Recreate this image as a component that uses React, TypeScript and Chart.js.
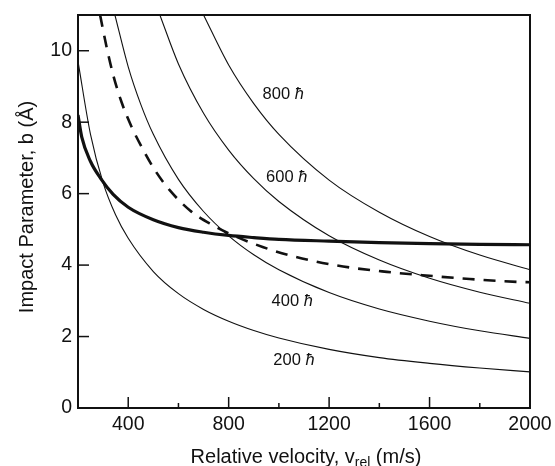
import React, { useEffect, useRef } from "react";
import { Chart, registerables } from "chart.js";

Chart.register(...registerables);

// ---- data (velocity in m/s, impact parameter in Å) ----
const curve200V = [200, 250, 300, 350, 400, 500, 600, 700, 800, 900, 1000, 1200, 1400, 1600, 1800, 2000];
const curve200B = [9.7, 7.65, 6.3, 5.4, 4.75, 3.82, 3.2, 2.76, 2.43, 2.17, 1.96, 1.64, 1.41, 1.25, 1.12, 1.01];

const curve400V = [347, 400, 450, 500, 600, 700, 800, 900, 1000, 1200, 1400, 1600, 1800, 2000];
const curve400B = [11.0, 9.55, 8.5, 7.66, 6.4, 5.5, 4.82, 4.29, 3.87, 3.23, 2.77, 2.43, 2.16, 1.95];

const curve600V = [526, 600, 700, 800, 900, 1000, 1200, 1400, 1600, 1800, 2000];
const curve600B = [11.0, 9.63, 8.25, 7.22, 6.42, 5.78, 4.82, 4.14, 3.63, 3.24, 2.93];

const curve800V = [700, 800, 900, 1000, 1200, 1400, 1600, 1800, 2000];
const curve800B = [11.0, 9.6, 8.52, 7.66, 6.38, 5.48, 4.8, 4.28, 3.87];

const thickV = [200, 215, 250, 290, 340, 400, 500, 600, 700, 800, 900, 1000, 1200, 1400, 1600, 1800, 2000];
const thickB = [8.2, 7.58, 6.9, 6.43, 5.98, 5.62, 5.27, 5.05, 4.92, 4.83, 4.77, 4.72, 4.67, 4.63, 4.6, 4.58, 4.57];

const dashedV = [288, 314, 341, 374, 414, 454, 507, 566, 646, 725, 818, 938, 1045, 1230, 1430, 1600, 1760, 1950, 2000];
const dashedB = [11.0, 10.1, 9.3, 8.55, 7.86, 7.3, 6.65, 6.09, 5.53, 5.16, 4.83, 4.5, 4.27, 3.99, 3.81, 3.7, 3.61, 3.53, 3.52];

const labelNumbers = ["800", "600", "400", "200"];
const labelV = [935, 949, 971, 978];
const labelB = [8.79, 6.46, 2.97, 1.34];

const xMin = 200;
const xMax = 2000;
const xStep = 200;
const xLabelEvery = 400;
const yMin = 0;
const yMax = 11;
const yStep = 2;

const xTitleMain = "Relative velocity, v";
const xTitleSub = "rel";
const xTitleEnd = " (m/s)";
const yTitle = "Impact Parameter, b (Å)";

const FONT = "'Liberation Sans', Arial, Helvetica, sans-serif";

function pts(v: number[], b: number[]) {
  return v.map((x, i) => ({ x, y: b[i] }));
}

const decorPlugin = {
  id: "decor",
  afterDraw(chart: any) {
    const { ctx, chartArea, scales } = chart;
    const { left, right, top, bottom } = chartArea;
    const xs = scales.x;
    const ys = scales.y;
    ctx.save();
    ctx.strokeStyle = "#111";
    ctx.lineWidth = 2;
    ctx.strokeRect(left, top, right - left, bottom - top);

    // inward ticks on x axis
    ctx.lineWidth = 1.5;
    xs.ticks.forEach((t: any) => {
      const px = xs.getPixelForValue(t.value);
      if (t.value <= xMin || t.value >= xMax) return;
      const len = t.value % xLabelEvery === 0 ? 11 : 5;
      ctx.beginPath();
      ctx.moveTo(px, bottom);
      ctx.lineTo(px, bottom - len);
      ctx.stroke();
    });
    // inward ticks on y axis
    ys.ticks.forEach((t: any) => {
      const py = ys.getPixelForValue(t.value);
      if (t.value <= yMin || t.value >= yMax) return;
      ctx.beginPath();
      ctx.moveTo(left, py);
      ctx.lineTo(left + 11, py);
      ctx.stroke();
    });

    // curve labels
    ctx.fillStyle = "#111";
    ctx.textBaseline = "middle";
    ctx.textAlign = "left";
    labelNumbers.forEach((n, i) => {
      const px = xs.getPixelForValue(labelV[i]);
      const py = ys.getPixelForValue(labelB[i]);
      ctx.font = `16.5px ${FONT}`;
      ctx.fillText(n + " ", px, py);
      const w = ctx.measureText(n + " ").width;
      ctx.font = `italic 16.5px ${FONT}`;
      ctx.fillText("ħ", px + w, py);
    });

    // x title with subscript
    ctx.textBaseline = "alphabetic";
    ctx.font = `20px ${FONT}`;
    const w1 = ctx.measureText(xTitleMain).width;
    const w3 = ctx.measureText(xTitleEnd).width;
    ctx.font = `14px ${FONT}`;
    const w2 = ctx.measureText(xTitleSub).width;
    const total = w1 + w2 + w3;
    const cx = (left + right) / 2 + 2;
    let sx = cx - total / 2;
    const by = 463;
    ctx.font = `20px ${FONT}`;
    ctx.fillText(xTitleMain, sx, by);
    sx += w1;
    ctx.font = `14px ${FONT}`;
    ctx.fillText(xTitleSub, sx, by + 4);
    sx += w2;
    ctx.font = `20px ${FONT}`;
    ctx.fillText(xTitleEnd, sx, by);

    // y title
    ctx.save();
    ctx.translate(27, 207);
    ctx.rotate(-Math.PI / 2);
    ctx.textAlign = "center";
    ctx.textBaseline = "middle";
    ctx.font = `20px ${FONT}`;
    ctx.fillText(yTitle, 0, 0);
    ctx.restore();

    ctx.restore();
  },
};

export default function App() {
  const canvasRef = useRef<HTMLCanvasElement | null>(null);

  useEffect(() => {
    if (!canvasRef.current) return;
    const thin = { borderColor: "#111", borderWidth: 1.1, pointRadius: 0, cubicInterpolationMode: "monotone" as const, fill: false };
    const chart = new Chart(canvasRef.current, {
      type: "line",
      data: {
        datasets: [
          { ...thin, data: pts(curve200V, curve200B) },
          { ...thin, data: pts(curve400V, curve400B) },
          { ...thin, data: pts(curve600V, curve600B) },
          { ...thin, data: pts(curve800V, curve800B) },
          { ...thin, borderWidth: 3.2, data: pts(thickV, thickB) },
          { ...thin, borderWidth: 2.6, borderDash: [12, 9], data: pts(dashedV, dashedB) },
        ],
      },
      options: {
        animation: false,
        responsive: false,
        maintainAspectRatio: false,
        layout: { padding: { top: 15, right: 25, left: 0, bottom: 0 } },
        plugins: { legend: { display: false }, tooltip: { enabled: false } },
        scales: {
          x: {
            type: "linear",
            min: xMin,
            max: xMax,
            grid: { display: false, drawTicks: false },
            border: { display: false },
            ticks: {
              stepSize: xStep,
              padding: 5,
              color: "#111",
              font: { size: 19.5, family: FONT },
              maxRotation: 0,
              autoSkip: false,
              callback: (v: any) => (v % xLabelEvery === 0 && v !== xMin ? String(v) : ""),
            },
            afterFit: (s: any) => {
              s.height = 58;
              s.paddingLeft = 0;
              s.paddingRight = 0;
            },
          },
          y: {
            type: "linear",
            min: yMin,
            max: yMax,
            grid: { display: false, drawTicks: false },
            border: { display: false },
            ticks: {
              stepSize: yStep,
              includeBounds: false,
              padding: 6,
              color: "#111",
              font: { size: 19.5, family: FONT },
            },
            afterFit: (s: any) => {
              s.width = 78;
              s.paddingTop = 0;
              s.paddingBottom = 0;
            },
          },
        },
      },
      plugins: [decorPlugin],
    });
    return () => chart.destroy();
  }, []);

  return (
    <div style={{ position: "fixed", left: 0, top: 0, width: 555, height: 466, background: "#fff" }}>
      <canvas ref={canvasRef} width={555} height={466} style={{ width: 555, height: 466 }} />
    </div>
  );
}
